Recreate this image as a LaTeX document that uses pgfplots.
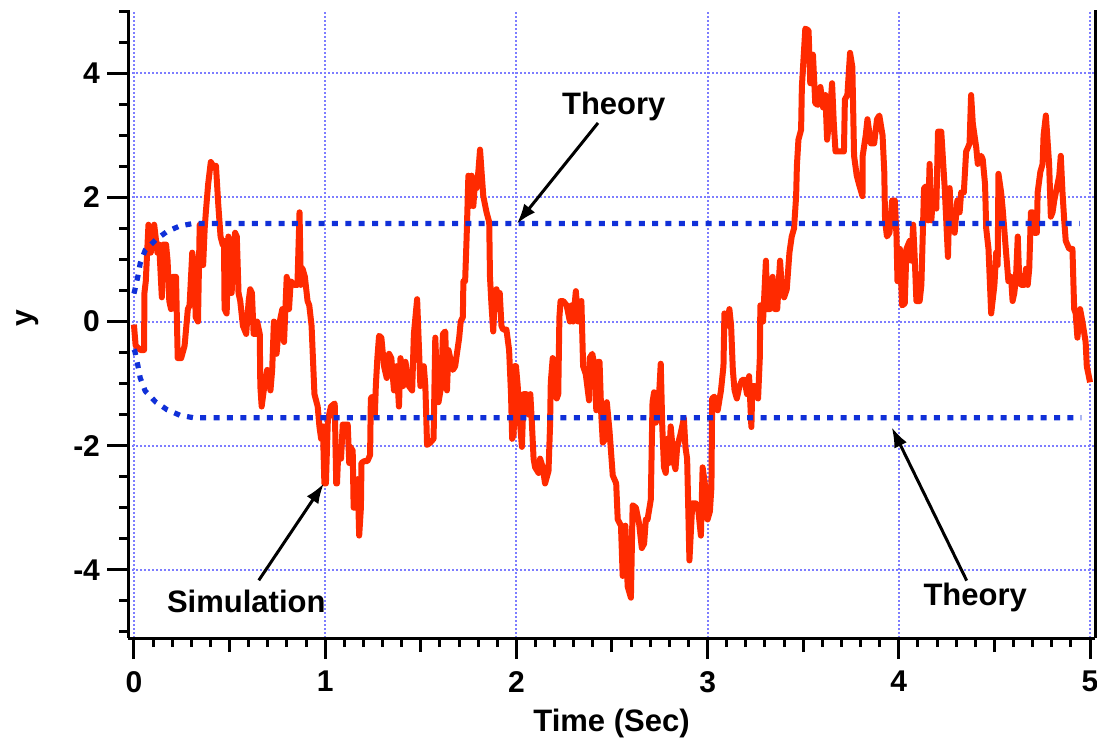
\documentclass[border=0pt]{standalone}
\usepackage{fontspec}
\setmainfont{Liberation Sans}
\usepackage{pgfplots}
\pgfplotsset{compat=1.18}
\usetikzlibrary{arrows.meta}
\definecolor{simred}{RGB}{255,42,0}
\definecolor{theoblue}{RGB}{16,48,216}
\definecolor{gridblue}{RGB}{125,125,255}

\pgfplotstableread{
x y
0 -0.05
0.009 -0.39
0.035 -0.46
0.053 -0.46
0.055 0.46
0.062 0.65
0.076 1.56
0.088 1.11
0.106 1.56
0.123 1.11
0.132 1.24
0.146 0.39
0.153 1.24
0.168 1.24
0.176 0.98
0.185 0.33
0.194 0.20
0.203 0.72
0.220 0.72
0.229 -0.59
0.247 -0.59
0.265 -0.39
0.282 0.20
0.291 0.26
0.305 1.11
0.317 0.85
0.323 0.07
0.335 0.00
0.344 1.56
0.353 0.91
0.362 0.91
0.370 1.50
0.376 1.76
0.388 2.21
0.402 2.57
0.414 2.51
0.429 2.51
0.441 1.89
0.453 1.37
0.464 1.24
0.471 1.30
0.474 0.20
0.485 0.13
0.494 1.37
0.503 0.46
0.511 0.46
0.520 1.11
0.529 1.43
0.538 1.37
0.547 0.46
0.556 0.33
0.570 -0.07
0.587 -0.20
0.600 0.33
0.608 0.52
0.617 0.46
0.626 -0.20
0.640 -0.20
0.644 0.00
0.658 -0.20
0.661 -1.04
0.668 -1.37
0.679 -1.11
0.697 -0.78
0.714 -1.11
0.723 -0.78
0.732 0.00
0.746 -0.52
0.758 -0.07
0.776 0.20
0.785 -0.33
0.799 0.72
0.811 0.20
0.820 0.65
0.838 0.59
0.855 0.59
0.866 1.76
0.873 0.59
0.882 0.85
0.894 0.72
0.908 0.33
0.917 0.26
0.929 -0.07
0.944 -1.17
0.961 -1.37
0.970 -1.69
0.979 -1.89
0.988 -1.69
0.996 -2.61
1.004 -2.61
1.014 -1.60
1.030 -1.37
1.050 -1.32
1.058 -2.61
1.062 -2.61
1.069 -2.08
1.083 -2.21
1.092 -1.66
1.118 -1.66
1.126 -2.28
1.131 -2.02
1.144 -2.08
1.149 -3.00
1.161 -3.00
1.170 -2.54
1.178 -3.45
1.187 -3.00
1.190 -2.28
1.204 -2.25
1.221 -2.25
1.235 -2.15
1.239 -1.24
1.247 -1.21
1.260 -1.50
1.265 -1.04
1.273 -0.59
1.282 -0.23
1.294 -0.26
1.308 -0.72
1.322 -0.91
1.334 -0.52
1.346 -0.59
1.360 -1.11
1.374 -0.72
1.386 -1.37
1.394 -0.59
1.408 -1.04
1.420 -0.65
1.438 -1.04
1.455 -1.11
1.464 -0.20
1.481 0.36
1.498 -1.04
1.516 -0.72
1.524 -1.04
1.533 -1.99
1.550 -1.95
1.567 -1.89
1.576 -0.26
1.585 -0.98
1.593 -1.30
1.607 -1.04
1.616 -0.20
1.628 -0.16
1.637 -1.11
1.645 -0.46
1.654 -0.59
1.668 -0.78
1.680 -0.72
1.689 -0.52
1.701 -0.26
1.709 0.00
1.720 0.07
1.723 0.65
1.732 0.65
1.740 1.37
1.749 2.35
1.758 1.86
1.766 2.35
1.775 1.86
1.784 2.28
1.792 2.15
1.801 2.41
1.810 2.77
1.818 2.41
1.827 2.02
1.844 1.76
1.858 1.60
1.862 0.72
1.870 0.26
1.879 -0.16
1.888 0.46
1.896 0.52
1.905 0.20
1.913 0.46
1.922 -0.07
1.931 -0.13
1.948 -0.13
1.962 -0.46
1.972 -1.17
1.978 -1.89
1.986 -1.82
1.990 -0.72
1.998 -0.72
2.007 -1.04
2.017 -1.56
2.029 -2.02
2.038 -1.17
2.052 -1.17
2.064 -1.50
2.073 -1.17
2.081 -1.63
2.090 -2.21
2.098 -2.35
2.116 -2.44
2.124 -2.21
2.138 -2.35
2.150 -2.61
2.168 -2.41
2.176 -1.69
2.180 -0.98
2.190 -0.59
2.202 -0.72
2.211 -1.24
2.219 -1.17
2.225 0.07
2.231 0.33
2.245 0.33
2.263 0.26
2.280 0.00
2.288 0.26
2.297 0.00
2.311 0.49
2.323 0.00
2.332 0.26
2.340 0.33
2.349 -0.72
2.363 -0.85
2.380 -1.27
2.383 -0.59
2.397 -0.52
2.409 -0.72
2.418 -1.43
2.427 -0.65
2.435 -0.65
2.444 -1.50
2.452 -1.95
2.466 -1.89
2.473 -1.30
2.487 -1.76
2.504 -2.48
2.522 -2.61
2.530 -3.19
2.547 -3.29
2.556 -4.10
2.570 -3.29
2.582 -4.27
2.599 -4.45
2.608 -2.96
2.625 -3.00
2.642 -3.26
2.656 -3.65
2.668 -3.58
2.677 -3.19
2.686 -3.19
2.703 -2.87
2.712 -1.30
2.720 -1.14
2.729 -1.63
2.743 -1.37
2.755 -0.68
2.763 -1.69
2.772 -2.35
2.781 -2.44
2.789 -1.89
2.798 -2.28
2.807 -1.69
2.824 -2.28
2.832 -2.38
2.841 -2.02
2.858 -1.82
2.876 -1.56
2.884 -2.02
2.893 -2.21
2.905 -3.85
2.920 -2.93
2.938 -2.93
2.952 -3.06
2.965 -3.45
2.974 -2.35
2.988 -2.67
3.000 -3.19
3.012 -3.06
3.020 -2.67
3.024 -1.24
3.035 -1.21
3.053 -1.43
3.070 -1.11
3.083 -0.72
3.088 0.13
3.100 -0.07
3.114 0.20
3.123 -0.07
3.132 -0.78
3.141 -1.11
3.153 -1.24
3.167 -1.04
3.181 -0.94
3.194 -0.94
3.206 -1.17
3.217 -0.88
3.229 -1.70
3.234 -1.04
3.246 -1.04
3.264 -1.24
3.273 -0.59
3.276 0.26
3.290 0.00
3.305 0.98
3.312 0.20
3.326 0.20
3.340 0.72
3.352 0.20
3.364 0.20
3.379 0.98
3.387 0.59
3.400 0.39
3.414 0.52
3.428 1.11
3.440 1.37
3.452 1.50
3.463 2.02
3.467 2.51
3.475 2.93
3.489 3.09
3.493 3.78
3.511 4.72
3.528 4.69
3.537 3.84
3.551 4.30
3.563 3.52
3.576 3.49
3.590 3.78
3.604 3.45
3.616 3.65
3.625 2.93
3.639 3.32
3.651 3.84
3.660 3.19
3.669 2.74
3.687 2.74
3.713 2.74
3.718 3.58
3.731 3.65
3.745 4.33
3.757 4.10
3.766 2.67
3.780 2.35
3.792 2.21
3.810 2.02
3.811 2.67
3.827 3.00
3.836 3.26
3.854 2.87
3.871 2.87
3.886 3.26
3.898 3.32
3.915 3.00
3.924 2.41
3.928 1.63
3.938 1.37
3.951 1.43
3.965 1.95
3.979 1.95
3.988 1.37
3.993 0.65
4.005 0.65
4.006 1.17
4.017 0.26
4.031 0.29
4.040 1.17
4.049 1.24
4.057 1.30
4.066 0.98
4.075 1.56
4.083 1.04
4.092 0.33
4.109 0.33
4.118 0.59
4.132 2.15
4.144 2.18
4.153 1.63
4.161 2.54
4.170 1.63
4.179 2.02
4.196 1.82
4.205 3.06
4.222 3.06
4.240 2.15
4.257 1.04
4.266 2.15
4.274 1.50
4.283 1.76
4.292 1.43
4.306 1.95
4.318 1.76
4.326 2.08
4.340 2.08
4.352 2.74
4.361 2.80
4.370 2.87
4.378 3.65
4.387 3.19
4.405 2.80
4.413 2.54
4.431 2.67
4.439 2.61
4.451 2.21
4.457 1.50
4.469 1.17
4.483 0.13
4.500 0.59
4.509 1.11
4.517 0.91
4.521 2.38
4.535 2.08
4.543 1.82
4.561 1.11
4.573 0.65
4.587 0.72
4.595 0.33
4.604 0.46
4.613 0.72
4.622 1.37
4.630 0.65
4.639 0.59
4.656 0.59
4.665 0.85
4.674 0.59
4.682 0.85
4.691 1.76
4.700 1.76
4.708 1.43
4.722 1.43
4.726 2.08
4.740 2.41
4.752 2.54
4.757 3.00
4.769 3.32
4.786 2.54
4.795 1.69
4.804 1.76
4.813 1.95
4.826 2.15
4.839 2.35
4.847 2.67
4.856 2.08
4.865 1.63
4.873 1.30
4.891 1.17
4.908 1.17
4.917 0.20
4.925 0.13
4.934 -0.26
4.948 0.20
4.960 0.00
4.977 -0.33
4.983 -0.72
5.000 -0.98
}\simdata

\pgfplotstableread{
x y
0 0.45
0.005 0.51
0.020 0.72
0.033 0.94
0.059 1.15
0.115 1.32
0.173 1.45
0.240 1.54
0.310 1.58
4.945 1.58
}\theoryup

\pgfplotstableread{
x y
0 -0.45
0.005 -0.48
0.020 -0.70
0.033 -0.91
0.059 -1.12
0.115 -1.30
0.173 -1.42
0.240 -1.51
0.310 -1.55
4.955 -1.55
}\theorylow

\begin{document}
\begin{tikzpicture}
\begin{axis}[
  scale only axis, width=483.5pt, height=314pt,
  xmin=-0.031, xmax=5.026, ymin=-5.1, ymax=5.02,
  clip=false,
  axis x line*=bottom, axis y line*=left,
  axis line style={-, line width=1.5pt, black},
  tick align=outside,
  xtick={0,1,2,3,4,5}, ytick={-4,-2,0,2,4},
  minor xtick={0,0.1,...,5},
  minor ytick={-5,-4.5,...,5},
  major tick length=10.5pt, minor tick length=4.5pt,
  tick style={line width=1.5pt, black},
  extra x ticks={0.5,1.5,2.5,3.5,4.5},
  extra x tick labels={},
  extra x tick style={grid=none, major tick length=7pt},
  grid=major,
  major grid style={gridblue, line width=1pt, dash pattern=on 1pt off 1pt},
  /pgf/number format/assume math mode=true,
  ticklabel style={font=\fontsize{15}{17}\selectfont\bfseries},
  xticklabel style={yshift=-2.5pt},
  xlabel={Time (Sec)},
  ylabel={y},
  xlabel style={font=\fontsize{15.5}{18}\selectfont\bfseries, at={(axis description cs:0.5,0)}, anchor=north, yshift=-35.5pt, inner sep=0pt},
  ylabel style={font=\fontsize{15}{18}\selectfont\bfseries, at={(axis description cs:-0.1034,0.51)}, anchor=center, rotate=0},
]
\addplot[simred, line width=3pt, line join=round] table[x=x,y=y] {\simdata};
\addplot[theoblue, line width=2.6pt, dash pattern=on 3pt off 3.67pt] table[x=x,y=y] {\theoryup};
\addplot[theoblue, line width=2.6pt, dash pattern=on 3pt off 3.67pt] table[x=x,y=y] {\theorylow};

\draw[line width=1.5pt, black] (rel axis cs:1,0) -- (rel axis cs:1,1);

\draw[line width=1.5pt, -{Latex[length=10pt,width=7pt]}] (2.427,3.20) -- (2.003,1.576);
\draw[line width=1.5pt, -{Latex[length=10pt,width=7pt]}] (4.355,-4.175) -- (3.963,-1.705);
\draw[line width=1.5pt, -{Latex[length=10pt,width=7pt]}] (0.653,-4.17) -- (0.993,-2.61);

\node[anchor=base west, inner sep=0pt, font=\fontsize{15.5}{18}\selectfont\bfseries] at (2.237,3.344) {Theory};
\node[anchor=base west, inner sep=0pt, font=\fontsize{15.5}{18}\selectfont\bfseries] at (4.127,-4.578) {Theory};
\node[anchor=base west, inner sep=0pt, font=\fontsize{15.5}{18}\selectfont\bfseries] at (0.171,-4.686) {Simulation};

\coordinate (SW) at (rel axis cs:0,0);
\end{axis}
\pgfresetboundingbox
\path[use as bounding box] (SW) ++(-64pt,-53pt) rectangle ++(548.5pt,372pt);
\end{tikzpicture}
\end{document}
